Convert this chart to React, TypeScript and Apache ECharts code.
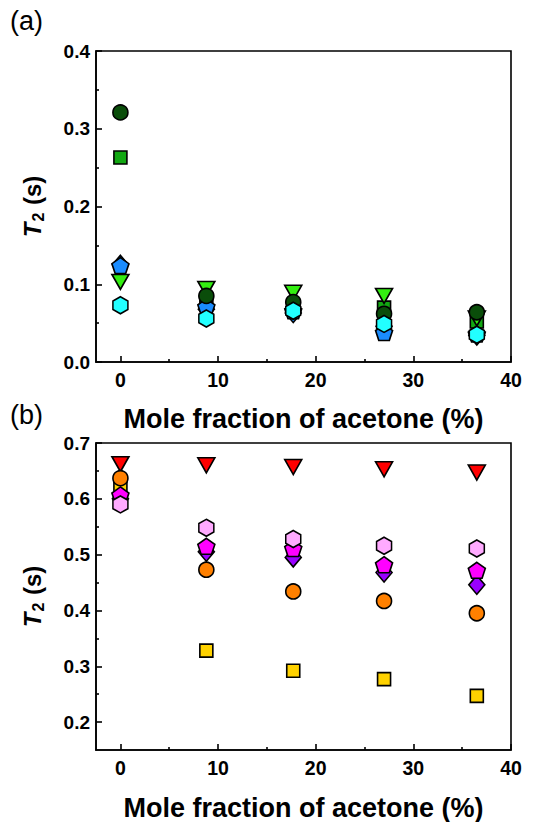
import React, { useEffect, useRef } from "react";
import * as echarts from "echarts";

// ---- data ----
const xValues = [0, 8.8, 17.7, 27.0, 36.5];
const xTickLabels = [0, 10, 20, 30, 40];
const xMinorTicks = [5, 15, 25, 35];

// panel (a)
const aSquareGreen = [0.263, 0.080, 0.072, 0.070, 0.052];
const aDiamondBlue = [0.125, 0.068, 0.063, 0.046, 0.034];
const aPentagonBlue = [0.124, 0.071, 0.066, 0.038, 0.036];
const aTriangleLime = [0.103, 0.094, 0.089, 0.085, 0.056];
const aCircleDarkGreen = [0.321, 0.085, 0.077, 0.062, 0.064];
const aHexagonCyan = [0.073, 0.056, 0.066, 0.049, 0.035];
const aYTicks = [0, 0.1, 0.2, 0.3, 0.4];
const aYMinor = [0.05, 0.15, 0.25, 0.35];

// panel (b)
const bTriangleRed = [0.662, 0.660, 0.657, 0.653, 0.647];
const bSquareYellow = [0.620, 0.328, 0.292, 0.277, 0.247];
const bCircleOrange = [0.637, 0.473, 0.434, 0.417, 0.395];
const bDiamondPurple = [0.600, 0.505, 0.495, 0.468, 0.446];
const bPentagonMagenta = [0.607, 0.515, 0.511, 0.482, 0.472];
const bHexagonPink = [0.590, 0.548, 0.528, 0.516, 0.511];
const bYTicks = [0.2, 0.3, 0.4, 0.5, 0.6, 0.7];
const bYMinor = [0.25, 0.35, 0.45, 0.55, 0.65];

const PENTAGON = "path://M0,-1L0.951,-0.309L0.588,0.809L-0.588,0.809L-0.951,-0.309Z";
const HEXAGON = "path://M0,-1L0.866,-0.5L0.866,0.5L0,1L-0.866,0.5L-0.866,-0.5Z";

const FONT = "Liberation Sans, Arial, sans-serif";

function pts(ys: number[]) {
  return xValues.map((x, i) => [x, ys[i]]);
}

function mk(
  name: string,
  ys: number[],
  color: string,
  symbol: string,
  size: number | number[],
  axis: number,
  rotate = 0
) {
  return {
    name,
    type: "scatter",
    xAxisIndex: axis * 2,
    yAxisIndex: axis * 2,
    data: pts(ys),
    symbol,
    symbolSize: size,
    symbolRotate: rotate,
    itemStyle: { color, borderColor: "#000", borderWidth: 1.6, opacity: 1 },
    emphasis: { disabled: true },
  };
}

const yName = "{i|T}{s|2}{b| (s)}";
const yNameStyle = {
  color: "#000",
  fontFamily: FONT,
  rich: {
    i: { fontStyle: "italic", fontWeight: "bold", fontSize: 24, fontFamily: FONT, color: "#000", lineHeight: 28 },
    s: { fontWeight: "bold", fontSize: 16, fontFamily: FONT, color: "#000", verticalAlign: "bottom", lineHeight: 22, padding: [10, 1, 0, 1] },
    b: { fontWeight: "bold", fontSize: 24, fontFamily: FONT, color: "#000", lineHeight: 28 },
  },
};

function xAxes(gridIndex: number, nameGap: number) {
  return [
    {
      type: "value",
      gridIndex,
      min: -2.5,
      max: 40,
      position: "bottom",
      name: "Mole fraction of acetone (%)",
      nameLocation: "middle",
      nameGap,
      nameMoveOverlap: false,
      nameTextStyle: { fontFamily: FONT, fontWeight: "bold", fontSize: 27, color: "#000" },
      axisLine: { show: true, onZero: false, lineStyle: { color: "#000", width: 1.6 } },
      axisTick: { show: true, inside: true, length: 6, customValues: xTickLabels, lineStyle: { color: "#000", width: 1.6 } },
      axisLabel: { show: true, customValues: xTickLabels, fontFamily: FONT, fontWeight: "bold", fontSize: 19.5, color: "#000", margin: 8 },
      splitLine: { show: false },
    },
    {
      type: "value",
      gridIndex,
      min: -2.5,
      max: 40,
      position: "bottom",
      axisLine: { show: false, onZero: false },
      axisTick: { show: true, inside: true, length: 3, customValues: xMinorTicks, lineStyle: { color: "#000", width: 1.6 } },
      axisLabel: { show: false },
      splitLine: { show: false },
    },
  ];
}

function yAxes(gridIndex: number, min: number, max: number, major: number[], minor: number[]) {
  return [
    {
      type: "value",
      gridIndex,
      min,
      max,
      position: "left",
      name: yName,
      nameLocation: "middle",
      nameGap: 50,
      nameRotate: 90,
      nameTextStyle: yNameStyle,
      axisLine: { show: true, onZero: false, lineStyle: { color: "#000", width: 1.6 } },
      axisTick: { show: true, inside: true, length: 6, customValues: major, lineStyle: { color: "#000", width: 1.6 } },
      axisLabel: {
        show: true,
        customValues: major,
        formatter: (v: number) => v.toFixed(1),
        fontFamily: FONT,
        fontWeight: "bold",
        fontSize: 19,
        color: "#000",
        margin: 6,
      },
      splitLine: { show: false },
    },
    {
      type: "value",
      gridIndex,
      min,
      max,
      position: "left",
      axisLine: { show: false, onZero: false },
      axisTick: { show: true, inside: true, length: 3, customValues: minor, lineStyle: { color: "#000", width: 1.6 } },
      axisLabel: { show: false },
      splitLine: { show: false },
    },
  ];
}

export default function App() {
  const ref = useRef<HTMLDivElement>(null);
  useEffect(() => {
    if (!ref.current) return;
    const chart = echarts.init(ref.current, undefined, { renderer: "svg" });
    const option = {
      animation: false,
      backgroundColor: "#fff",
      textStyle: { fontFamily: FONT },
      grid: [
        { left: 96, top: 51, width: 415, height: 311, show: true, borderColor: "#000", borderWidth: 1.6, backgroundColor: "transparent" },
        { left: 96, top: 443, width: 415, height: 312, show: true, borderColor: "#000", borderWidth: 1.6, backgroundColor: "transparent" },
      ],
      xAxis: [...xAxes(0, 43), ...xAxes(1, 44)],
      yAxis: [
        ...yAxes(0, 0, 0.4, aYTicks, aYMinor),
        ...yAxes(1, 0.15, 0.7, bYTicks, bYMinor),
      ],
      graphic: [
        { type: "text", left: 10, top: 7, style: { text: "(a)", fontFamily: FONT, fontSize: 27, fill: "#000" } },
        { type: "text", left: 10, top: 401, style: { text: "(b)", fontFamily: FONT, fontSize: 27, fill: "#000" } },
      ],
      series: [
        mk("a-square", aSquareGreen, "#12a812", "rect", 13, 0),
        mk("a-diamond", aDiamondBlue, "#1a8cff", "diamond", [16, 19], 0),
        mk("a-pentagon", aPentagonBlue, "#1a8cff", PENTAGON, [17, 16], 0),
        mk("a-triangle", aTriangleLime, "#33ee11", "triangle", [17, 15], 0, 180),
        mk("a-circle", aCircleDarkGreen, "#0a4d0a", "circle", 15, 0),
        mk("a-hexagon", aHexagonCyan, "#22ffff", HEXAGON, [15, 17], 0),

        mk("b-triangle", bTriangleRed, "#ff0000", "triangle", [17, 15], 1, 180),
        mk("b-square", bSquareYellow, "#ffd200", "rect", 13, 1),
        mk("b-circle", bCircleOrange, "#ff8000", "circle", 15, 1),
        mk("b-diamond", bDiamondPurple, "#9900ff", "diamond", [16, 19], 1),
        mk("b-pentagon", bPentagonMagenta, "#ff00ff", PENTAGON, [17, 16], 1),
        mk("b-hexagon", bHexagonPink, "#ffaaff", HEXAGON, [15, 17], 1),
      ],
    };
    chart.setOption(option as any);
    return () => chart.dispose();
  }, []);
  return (
    <div
      ref={ref}
      style={{ position: "absolute", left: 0, top: 0, width: 533, height: 822, background: "#fff" }}
    />
  );
}
